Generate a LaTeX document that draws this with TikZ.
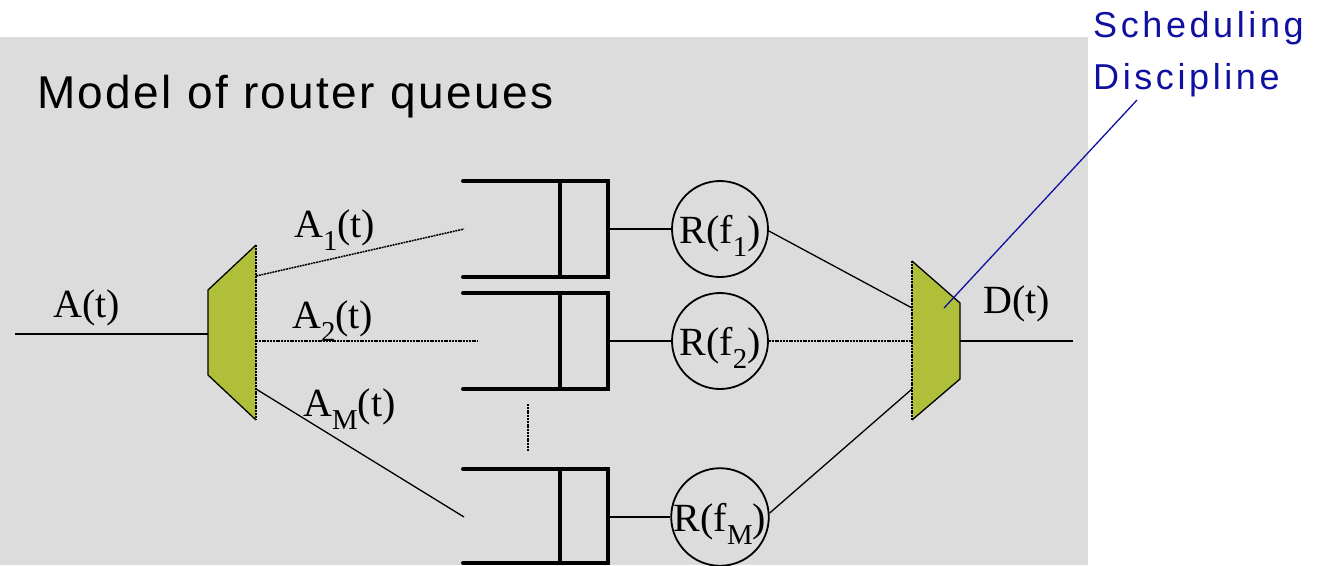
\documentclass[tikz,border=0pt]{standalone}
\usepackage{fontspec}
\setmainfont{Liberation Serif}
\newfontfamily\titlefont[LetterSpace=5.2]{Liberation Sans}
\newfontfamily\schedfont[LetterSpace=10]{Liberation Sans}
\definecolor{bggray}{HTML}{DCDCDC}
\definecolor{olive}{HTML}{B0BF3A}
\definecolor{darkblue}{HTML}{1010A0}
\newcommand\lsub[1]{\raisebox{-0.33em}{\scalebox{0.72}{#1}}}
\tikzset{
  qline/.style={line width=4pt, line cap=round, line join=miter},
  conn/.style={line width=1.3pt},
  dotconn/.style={line width=1.5pt, dash pattern=on 2pt off 0.8pt},
  srv/.style={circle, draw, line width=1.8pt, minimum size=96pt, inner sep=0pt,
              text height=30pt, text depth=2pt, font=\fontsize{40}{44}\selectfont},
  lbl/.style={anchor=base west, inner sep=0pt, font=\fontsize{40}{44}\selectfont},
  muxfill/.style={fill=olive},
  muxedge/.style={line width=1.3pt, line join=miter},
  muxdot/.style={line width=1.3pt, dash pattern=on 2pt off 0.8pt},
}
\begin{document}
\begin{tikzpicture}[x=1pt,y=-1pt]
\useasboundingbox (0,0) rectangle (1325,565);
\fill[bggray] (0,37) rectangle (1088,565);

% title
\node[anchor=base west, inner sep=0pt, font=\titlefont\fontsize{46}{50}\selectfont] (title) at (37,108) {Model of router queues};

% demux trapezoid
\coordinate (dl1) at (208,290);
\coordinate (dr1) at (256,245);
\coordinate (dr2) at (256,420);
\coordinate (dl2) at (208,375);
\fill[muxfill] (dl1) -- (dr1) -- (dr2) -- (dl2) -- cycle;
\draw[muxedge] (dr2) -- (dl2) -- (dl1) -- (dr1);
\draw[muxdot] (dr1) -- (dr2);

% mux trapezoid
\coordinate (ml1) at (912,261);
\coordinate (mr1) at (960,303);
\coordinate (mr2) at (960,379);
\coordinate (ml2) at (912,420);
\fill[muxfill] (ml1) -- (mr1) -- (mr2) -- (ml2) -- cycle;
\draw[muxedge] (ml1) -- (mr1) -- (mr2) -- (ml2);
\draw[muxdot] (ml2) -- (ml1);

% input / output
\coordinate (ain) at (15,334);
\coordinate (din) at (208,334);
\draw[conn] (ain) -- (din);
\coordinate (mout) at (960,341);
\coordinate (dout) at (1073,341);
\draw[conn] (mout) -- (dout);

% queues
\draw[qline] (463,181) -- (608,181) -- (608,277) -- (463,277);
\draw[qline] (560,181) -- (560,277);
\draw[qline] (463,293) -- (608,293) -- (608,389) -- (463,389);
\draw[qline] (560,293) -- (560,389);
\draw[qline] (463,469) -- (608,469) -- (608,563) -- (463,563);
\draw[qline] (560,469) -- (560,563);
\coordinate (q1in) at (464,229);
\coordinate (q2in) at (478,341);
\coordinate (qMin) at (464,517);
\coordinate (q1out) at (608,229);
\coordinate (q2out) at (608,341);
\coordinate (qMout) at (608,517);
\coordinate (vd1) at (528,404);
\coordinate (vd2) at (528,451);
\draw[dotconn] (vd1) -- (vd2);

% demux outputs
\coordinate (d1) at (256,276);
\coordinate (d2) at (256,341);
\coordinate (dM) at (256,389);
\draw[dotconn] (d1) -- (q1in);
\draw[dotconn] (d2) -- (q2in);
\draw[conn] (dM) -- (qMin);

% servers
\node[srv] (r1) at (720,229) {R(f\lsub{1})};
\node[srv] (r2) at (720,341) {R(f\lsub{2})};
\node[srv] (rM) at (720,517) {R(f\lsub{M})};
\draw[conn] (q1out) -- (r1.west);
\draw[conn] (q2out) -- (r2.west);
\draw[conn] (qMout) -- (rM.west);

% mux inputs
\coordinate (m1) at (912,308);
\coordinate (m2) at (912,341);
\coordinate (mM) at (912,389);
\draw[conn] (r1.east) ++(0,2) -- (m1);
\draw[dotconn] (r2.east) -- (m2);
\draw[conn] (rM.east) ++(0,-4) -- (mM);

% labels
\node[lbl] (la) at (53,317) {A(t)};
\node[lbl] (la1) at (294,237) {A\lsub{1}(t)};
\node[lbl] (la2) at (292,328) {A\lsub{2}(t)};
\node[lbl] (laM) at (303,416) {A\lsub{M}(t)};
\node[lbl] (ld) at (983,313) {D(t)};

% scheduling discipline
\node[anchor=base west, inner sep=0pt, text=darkblue, font=\schedfont\fontsize{36}{40}\selectfont] (s1) at (1093,37) {Scheduling};
\node[anchor=base west, inner sep=0pt, text=darkblue, font=\schedfont\fontsize{36}{40}\selectfont] (s2) at (1093,89) {Discipline};
\coordinate (bl1) at (944,308);
\coordinate (bl2) at (1137,100);
\draw[darkblue, line width=1.3pt] (bl1) -- (bl2);
\end{tikzpicture}
\end{document}
